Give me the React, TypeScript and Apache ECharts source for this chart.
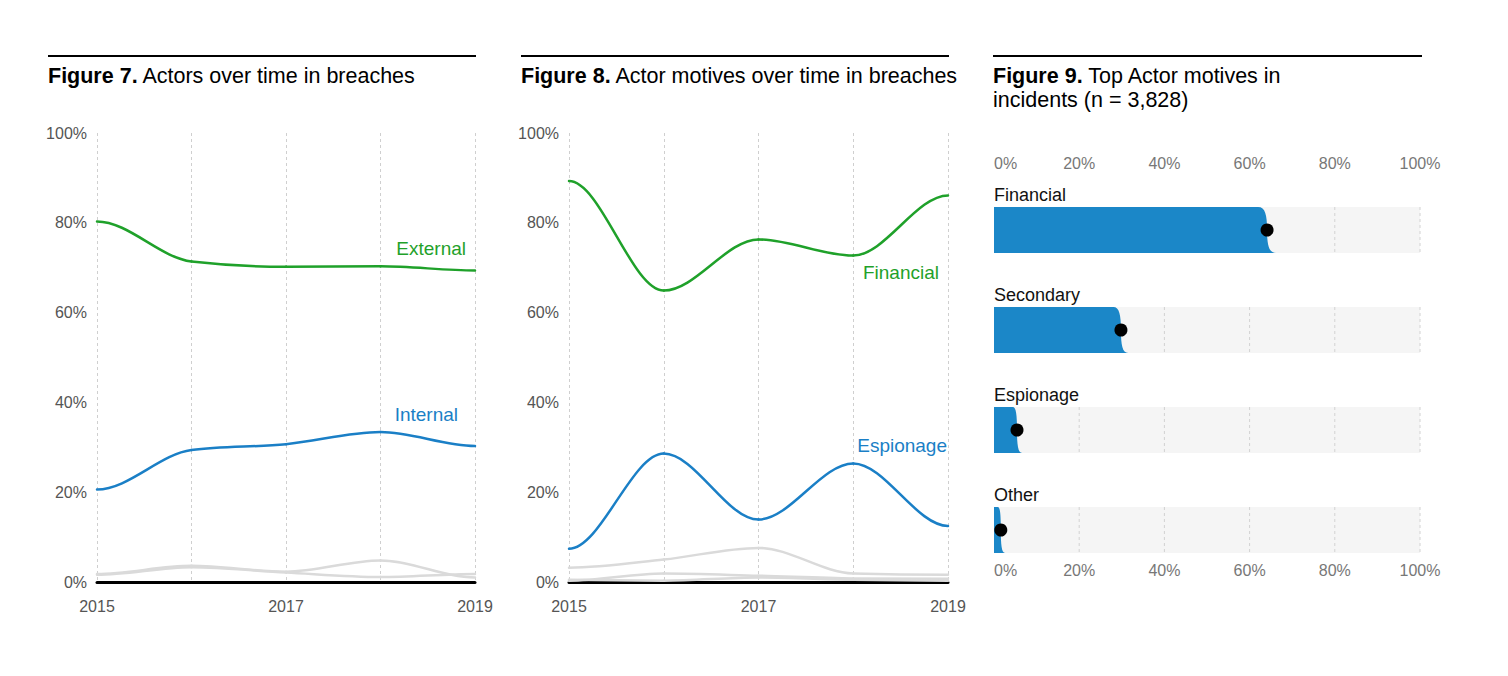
import React, { useEffect, useRef } from 'react';
import * as echarts from 'echarts';

// ---------- data ----------
const years = [2015, 2016, 2017, 2018, 2019];
const yearLabels = ['2015', '2017', '2019'];
const pctTicks = [0, 20, 40, 60, 80, 100];

// Figure 7: actors over time in breaches (%)
const external = [80.3, 71.4, 70.2, 70.3, 69.4];
const internal = [20.6, 29.4, 30.7, 33.4, 30.3];
const partner = [1.8, 3.6, 2.3, 4.8, 1.0];
const multiple = [1.6, 3.3, 2.1, 1.1, 1.8];

// Figure 8: actor motives over time in breaches (%)
const financialTrend = [89.3, 64.9, 76.3, 72.7, 86.1];
const espionageTrend = [7.4, 28.6, 13.9, 26.4, 12.5];
const motiveOtherA = [3.2, 5.0, 7.6, 1.9, 1.6];
const motiveOtherB = [0.3, 1.9, 1.4, 0.8, 0.7];
const motiveOtherC = [0.5, 0.3, 1.0, 0.5, 0.3];

// Figure 9: top actor motives in incidents (%)
const motiveCategories = ['Financial', 'Secondary', 'Espionage', 'Other'];
const motiveValues = [64.1, 29.8, 5.4, 1.6];
const motiveLow = [62.0, 28.0, 4.4, 0.9];
const motiveHigh = [66.2, 31.5, 6.6, 2.6];

// ---------- styles ----------
const GREEN = '#1fa12a';
const BLUE = '#1a7fc6';
const BAR_BLUE = '#1b87c8';
const GREY_LINE = '#dadada';
const FONT = 'Liberation Sans, Arial, sans-serif';

const pairs = (vals: number[]) => years.map((y, i) => [y, vals[i]]);

// monotone tangents (data space) with flat ends
function tangents(vals: number[]) {
  const n = vals.length;
  const m = new Array(n).fill(0);
  for (let k = 1; k < n - 1; k++) {
    const h0 = years[k] - years[k - 1];
    const h1 = years[k + 1] - years[k];
    const s0 = (vals[k] - vals[k - 1]) / h0;
    const s1 = (vals[k + 1] - vals[k]) / h1;
    if (s0 * s1 <= 0) {
      m[k] = 0;
    } else {
      const p = (s0 * h1 + s1 * h0) / (h0 + h1);
      m[k] = (Math.sign(s0) + Math.sign(s1)) * Math.min(Math.abs(s0), Math.abs(s1), 0.5 * Math.abs(p));
    }
  }
  return m;
}

function curveSeries(name: string, vals: number[], color: string, idx: number, z = 3) {
  const m = tangents(vals);
  return {
    type: 'custom',
    name,
    xAxisIndex: idx,
    yAxisIndex: idx,
    z,
    clip: false,
    data: pairs(vals),
    renderItem: (params: any, api: any) => {
      const i = params.dataIndex;
      if (i >= vals.length - 1) return { type: 'group', children: [] };
      const h = years[i + 1] - years[i];
      const p0 = api.coord([years[i], vals[i]]);
      const p1 = api.coord([years[i + 1], vals[i + 1]]);
      const c0 = api.coord([years[i] + h / 3, vals[i] + (m[i] * h) / 3]);
      const c1 = api.coord([years[i + 1] - h / 3, vals[i + 1] - (m[i + 1] * h) / 3]);
      return {
        type: 'bezierCurve',
        shape: { x1: p0[0], y1: p0[1], cpx1: c0[0], cpy1: c0[1], cpx2: c1[0], cpy2: c1[1], x2: p1[0], y2: p1[1] },
        style: { stroke: color, lineWidth: 2.5, fill: null, lineCap: 'round' },
      };
    },
  };
}

function yearAxis(gridIndex: number) {
  return {
    type: 'value',
    gridIndex,
    min: 2015,
    max: 2019,
    interval: 1,
    axisLine: { show: true, onZero: false, lineStyle: { color: '#000', width: 3 } },
    axisTick: { show: false },
    splitLine: { show: true, lineStyle: { color: '#cfcfcf', type: [3, 3], width: 1 } },
    axisLabel: {
      margin: 16,
      fontSize: 16,
      color: '#555',
      fontFamily: FONT,
      formatter: (v: number) => (yearLabels.includes(String(v)) ? String(v) : ''),
    },
  };
}

function pctAxis(gridIndex: number) {
  return {
    type: 'value',
    gridIndex,
    min: 0,
    max: 100,
    interval: 20,
    axisLine: { show: false },
    axisTick: { show: false },
    splitLine: { show: false },
    axisLabel: { margin: 10, fontSize: 16, color: '#555', fontFamily: FONT, formatter: '{value}%' },
  };
}

function motiveAxis(position: string) {
  return {
    type: 'value',
    gridIndex: 2,
    position,
    min: 0,
    max: 100,
    interval: 20,
    axisLine: { show: false },
    axisTick: { show: false },
    splitLine: { show: false },
    axisLabel: {
      margin: position === 'top' ? 9 : 7,
      fontSize: 16,
      color: '#777',
      fontFamily: FONT,
      alignMinLabel: 'left',
      formatter: (v: number) => (pctTicks.includes(v) ? v + '%' : ''),
    },
  };
}

function titleText(x: number, y: number, bold: string, rest: string) {
  return {
    type: 'text',
    x,
    y,
    style: {
      text: '{b|' + bold + '} ' + rest,
      font: '21.5px ' + FONT,
      fill: '#000',
      verticalAlign: 'middle',
      rich: { b: { fontWeight: 'bold', fontSize: 21.5, fontFamily: FONT } },
    },
  };
}

function rule(x1: number, x2: number) {
  return { type: 'line', shape: { x1, y1: 56, x2, y2: 56 }, style: { stroke: '#000', lineWidth: 2 } };
}

function seriesLabel(x: number, y: number, text: string, color: string) {
  return {
    type: 'text',
    x,
    y,
    style: { text, font: '19px ' + FONT, fill: color, align: 'right', verticalAlign: 'middle' },
    z: 10,
  };
}

export default function App() {
  const ref = useRef<HTMLDivElement>(null);

  useEffect(() => {
    if (!ref.current) return;
    const chart = echarts.init(ref.current, null, { renderer: 'svg' });

    const renderMotive = (params: any, api: any) => {
      const i = params.dataIndex;
      const v = api.value(1);
      const lo = api.value(2);
      const hi = api.value(3);
      const [x0, yTop] = api.coord([0, i + 0.27]);
      const [x100, yBot] = api.coord([100, i + 0.73]);
      const yMid = (yTop + yBot) / 2;
      const xV = api.coord([v, 0])[0];
      const xLo = api.coord([lo, 0])[0];
      const xHi = api.coord([hi, 0])[0];
      const children: any[] = [];
      children.push({
        type: 'rect',
        shape: { x: x0, y: yTop, width: x100 - x0, height: yBot - yTop },
        style: { fill: '#f5f5f5' },
      });
      pctTicks.slice(1).forEach((t) => {
        const gx = api.coord([t, 0])[0];
        children.push({
          type: 'line',
          shape: { x1: gx, y1: yTop, x2: gx, y2: yBot },
          style: { stroke: '#d2d2d2', lineWidth: 1, lineDash: [3, 3] },
        });
      });
      const d =
        `M${x0},${yTop} L${xLo},${yTop} ` +
        `C${xLo + (xV - xLo) * 0.8},${yTop} ${xV},${yTop + (yMid - yTop) * 0.35} ${xV},${yMid} ` +
        `C${xV},${yMid + (yBot - yMid) * 0.65} ${xV + (xHi - xV) * 0.2},${yBot} ${xHi},${yBot} ` +
        `L${x0},${yBot} Z`;
      children.push({ type: 'path', shape: { pathData: d }, style: { fill: BAR_BLUE } });
      children.push({
        type: 'circle',
        shape: { cx: xV, cy: yMid, r: 6.5 },
        style: { fill: '#000' },
      });
      children.push({
        type: 'text',
        x: x0,
        y: yTop - 12,
        style: {
          text: motiveCategories[i],
          font: '18px ' + FONT,
          fill: '#111',
          verticalAlign: 'middle',
          align: 'left',
        },
      });
      return { type: 'group', children };
    };

    chart.setOption({
      animation: false,
      grid: [
        { left: 97, top: 133, width: 378, height: 449 },
        { left: 569, top: 133, width: 379, height: 449 },
        { left: 994, top: 180, width: 426, height: 375 },
      ],
      xAxis: [yearAxis(0), yearAxis(1), motiveAxis('top'), motiveAxis('bottom')],
      yAxis: [
        pctAxis(0),
        pctAxis(1),
        { type: 'value', gridIndex: 2, min: 0, max: 3.75, inverse: true, show: false },
      ],
      series: [
        curveSeries('Partner', partner, GREY_LINE, 0, 2),
        curveSeries('Multiple', multiple, GREY_LINE, 0, 2),
        curveSeries('External', external, GREEN, 0),
        curveSeries('Internal', internal, BLUE, 0),
        curveSeries('Other A', motiveOtherA, GREY_LINE, 1, 2),
        curveSeries('Other B', motiveOtherB, GREY_LINE, 1, 2),
        curveSeries('Other C', motiveOtherC, GREY_LINE, 1, 2),
        curveSeries('Financial', financialTrend, GREEN, 1),
        curveSeries('Espionage', espionageTrend, BLUE, 1),
        {
          type: 'custom',
          xAxisIndex: 2,
          yAxisIndex: 2,
          clip: false,
          renderItem: renderMotive,
          data: motiveCategories.map((c, i) => [i, motiveValues[i], motiveLow[i], motiveHigh[i]]),
        },
      ],
      graphic: [
        rule(48, 476),
        rule(521, 949),
        rule(993, 1422),
        titleText(48, 76, 'Figure 7.', 'Actors over time in breaches'),
        titleText(521, 76, 'Figure 8.', 'Actor motives over time in breaches'),
        titleText(993, 76, 'Figure 9.', 'Top Actor motives in'),
        {
          type: 'text',
          x: 993,
          y: 100,
          style: { text: 'incidents (n = 3,828)', font: '21.5px ' + FONT, fill: '#000', verticalAlign: 'middle' },
        },
        seriesLabel(466, 248, 'External', GREEN),
        seriesLabel(458, 414, 'Internal', BLUE),
        seriesLabel(939, 272, 'Financial', GREEN),
        seriesLabel(947, 445, 'Espionage', BLUE),
      ],
    });

    return () => chart.dispose();
  }, []);

  return (
    <div
      ref={ref}
      style={{ position: 'absolute', left: 0, top: 0, width: 1508, height: 676, background: '#fff' }}
    />
  );
}
